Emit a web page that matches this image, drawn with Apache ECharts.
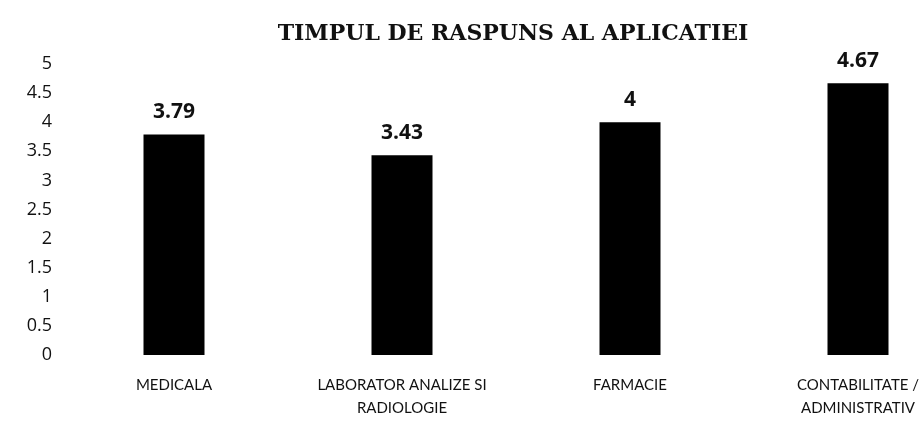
<!DOCTYPE html>
<html>
<head>
<meta charset="utf-8">
<script src="https://cdn.jsdelivr.net/npm/echarts@6/dist/echarts.min.js"></script>
<style>
  html, body { margin: 0; padding: 0; background: #fff; overflow: hidden; }
  /* graficul original e taiat in dreapta, deci containerul e mai lat decat fereastra */
  #chart { width: 972px; height: 432px; }
</style>
</head>
<body>
<div id="chart"></div>
<script>
// date din grafic
var categorii = ['MEDICALA', 'LABORATOR ANALIZE SI\nRADIOLOGIE', 'FARMACIE', 'CONTABILITATE /\nADMINISTRATIV'];
var valori = [3.79, 3.43, 4, 4.67];
var titlu = 'TIMPUL DE RASPUNS AL APLICATIEI';

var myChart = echarts.init(document.getElementById('chart'));

var option = {
  backgroundColor: '#fff',
  title: {
    text: titlu,
    left: 508,
    top: 18,
    textAlign: 'center',
    textStyle: {
      fontFamily: 'DejaVu Serif',
      fontWeight: 'bold',
      fontSize: 22,
      color: '#111'
    }
  },
  grid: {
    left: 60,
    right: 0,
    top: 64,
    bottom: 77
  },
  xAxis: {
    type: 'category',
    data: categorii,
    axisLine: { show: false },
    axisTick: { show: false },
    axisLabel: {
      interval: 0,
      margin: 19,
      fontFamily: 'Lato',
      fontSize: 15,
      lineHeight: 23,
      color: '#111'
    }
  },
  yAxis: {
    type: 'value',
    min: 0,
    max: 5,
    interval: 0.5,
    axisLine: { show: false },
    axisTick: { show: false },
    splitLine: { show: false },
    axisLabel: {
      margin: 8,
      fontFamily: 'Open Sans',
      fontSize: 18,
      color: '#111'
    }
  },
  series: [
    {
      type: 'bar',
      data: valori,
      barWidth: 61,
      itemStyle: { color: '#000' },
      label: {
        show: true,
        position: 'top',
        distance: 12,
        fontFamily: 'Open Sans',
        fontWeight: 'bold',
        fontSize: 21,
        color: '#111'
      }
    }
  ]
};
myChart.setOption(option);
</script>
</body>
</html>
